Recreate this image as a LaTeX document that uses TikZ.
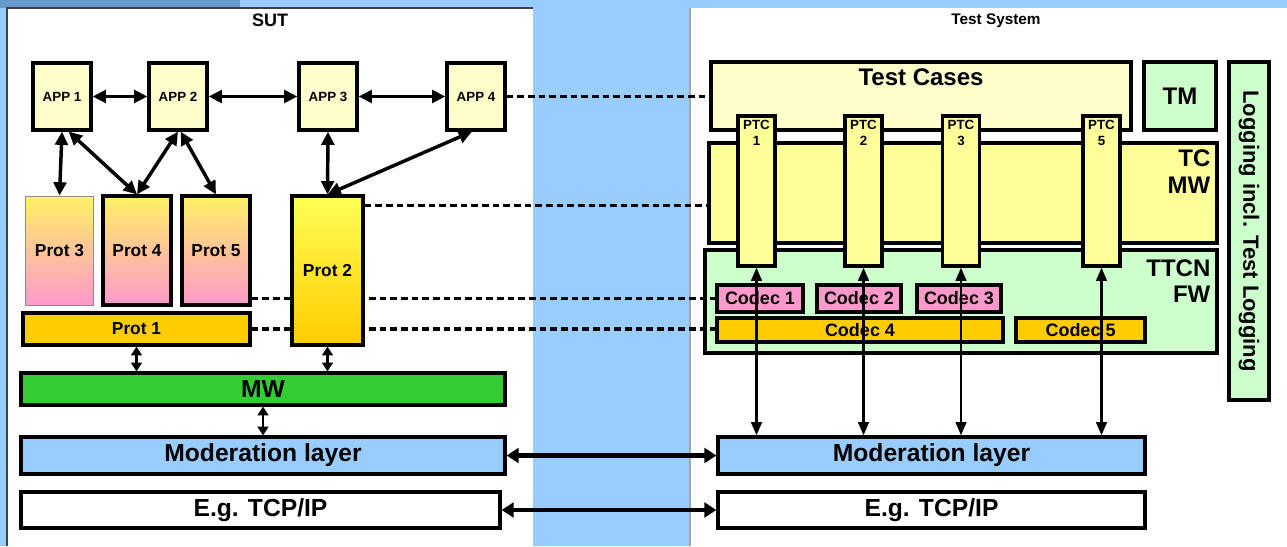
\documentclass[tikz,border=0pt]{standalone}
\usepackage{fontspec}
\setmainfont{Liberation Sans}
\usetikzlibrary{arrows.meta,calc,positioning}

\definecolor{bgblue}{HTML}{99CCFF}
\definecolor{stripblue}{HTML}{6699CC}
\definecolor{appyellow}{HTML}{FFFFCC}
\definecolor{tcyellow}{HTML}{FFFF99}
\definecolor{ttcngreen}{HTML}{CCFFCC}
\definecolor{mwgreen}{HTML}{33CC33}
\definecolor{codecpink}{HTML}{FF99CC}
\definecolor{codecorange}{HTML}{FFCC00}
\definecolor{prottop}{HTML}{FFF066}
\definecolor{protpink}{HTML}{FF99CC}
\definecolor{prot2top}{HTML}{FFFF55}
\definecolor{logyellow}{HTML}{FFFF66}

\begin{document}
\begin{tikzpicture}[x=0.75pt,y=0.75pt,yscale=-1,xscale=1,
  sz/.style 2 args={minimum width=#1*0.75pt, minimum height=#2*0.75pt},
  box/.style={draw, line width=2.4pt, inner sep=0pt},
  app/.style={box, sz={58}{67}, fill=appyellow, font=\bfseries\fontsize{10}{12}\selectfont},
  prot/.style={box, sz={68}{109}, top color=prottop, bottom color=protpink, font=\bfseries\fontsize{13}{15}\selectfont},
  layer/.style={box, font=\bfseries\fontsize{18.5}{22}\selectfont},
  ptc/.style={box, sz={37}{150}, fill=tcyellow},
  ptclabel/.style={anchor=north, inner sep=4pt, align=center, font=\bfseries\fontsize{10}{12}\selectfont},
  codec/.style={box, font=\bfseries\fontsize{13.5}{16}\selectfont},
  cornerlabel/.style={anchor=north east, align=right, inner sep=6pt, font=\bfseries\fontsize{18}{20}\selectfont},
  biarrow/.style={line width=2.6pt, arrows={Triangle[length=10pt,width=9.5pt]-Triangle[length=10pt,width=9.5pt]}},
  shortarrow/.style={line width=2pt, arrows={Triangle[length=6.5pt,width=8pt]-Triangle[length=6.5pt,width=8pt]}},
  ptcarrow/.style={line width=1.8pt, arrows={Triangle[length=10pt,width=8pt]-Triangle[length=10pt,width=8pt]}},
  linkarrow/.style={line width=3.2pt, arrows={Triangle[length=9pt,width=11pt]-Triangle[length=9pt,width=11pt]}},
  dashlink/.style={line width=2.5pt, dash pattern=on 5pt off 3pt}]

\useasboundingbox (0,0) rectangle (1287,546);

% backdrop and the two panels
\fill[bgblue] (0,0) rectangle (1287,546);
\fill[stripblue] (0,0) rectangle (240,8);
\fill[white] (7,8) rectangle (533,546);
\fill[white] (690,8) rectangle (1287,546);
\draw[line width=1.2pt, black!75] (7,546) -- (7,8) -- (533,8);
\draw[line width=0.8pt, black!35] (690,546) -- (690,8);

\node[font=\bfseries\fontsize{13.5}{16}\selectfont] (sut) at (270,20) {SUT};
\node[font=\bfseries\fontsize{11.5}{14}\selectfont] (testsys) at (996,21) {Test System};

% SUT: applications
\node[app] (APP1) at (62,96.5) {APP 1};
\node[app] (APP2) at (178,96.5) {APP 2};
\node[app] (APP3) at (328,96.5) {APP 3};
\node[app] (APP4) at (476,96.5) {APP 4};

% SUT: protocols
\node[prot, line width=0.6pt, draw=black!45] (Prot3) at (59.5,250.5) {Prot 3};
\node[prot] (Prot4) at (137,250.5) {Prot 4};
\node[prot] (Prot5) at (216,250.5) {Prot 5};
\node[box, sz={227}{32}, fill=codecorange, font=\bfseries\fontsize{13}{15}\selectfont] (Prot1) at (136.5,329) {Prot 1};

% SUT: lower layers
\node[layer, sz={484}{32}, fill=mwgreen] (MW) at (263,389) {MW};
\node[layer, sz={484}{37}, fill=bgblue] (ModL) at (263,455.5) {Moderation layer};
\node[layer, sz={479}{36}, fill=white] (TcpL) at (260.5,510) {E.g. TCP/IP};

% Test system: test cases, TM and logging
\node[box, sz={420}{68}, fill=appyellow,
  label={[anchor=north, inner sep=6pt, font=\bfseries\fontsize{18}{20}\selectfont]north:Test Cases}] (TestCases) at (921,96) {};
\node[box, sz={72}{68}, fill=ttcngreen, font=\bfseries\fontsize{18}{20}\selectfont] (TM) at (1180,96) {TM};
\node[box, sz={40}{338}, top color=ttcngreen, middle color=logyellow, bottom color=ttcngreen,
  label={[rotate=-90, font=\bfseries\fontsize{16.5}{19}\selectfont]center:Logging incl. Test Logging}] (Logging) at (1249,231) {};

% Test system: middleware and framework
\node[box, sz={508}{100}, fill=tcyellow, label={[cornerlabel]north east:TC\\MW}] (TCMW) at (963,193) {};
\node[box, sz={512}{103}, fill=ttcngreen, label={[cornerlabel, inner ysep=8pt]north east:TTCN\\FW}] (TTCN) at (961,301.5) {};

\node[ptc, label={[ptclabel]north:PTC\\1}] (PTC1) at (756.5,191) {};
\node[ptc, label={[ptclabel]north:PTC\\2}] (PTC2) at (863.5,191) {};
\node[ptc, label={[ptclabel]north:PTC\\3}] (PTC3) at (961,191) {};
\node[ptc, label={[ptclabel]north:PTC\\5}] (PTC5) at (1101.5,191) {};

\node[codec, sz={86}{27}, fill=codecpink] (Codec1) at (760,298.5) {Codec 1};
\node[codec, sz={84}{27}, fill=codecpink] (Codec2) at (859,298.5) {Codec 2};
\node[codec, sz={84}{27}, fill=codecpink] (Codec3) at (959,298.5) {Codec 3};
\node[codec, sz={286}{24}, fill=codecorange] (Codec4) at (860,330) {Codec 4};
\node[codec, sz={129}{24}, fill=codecorange] (Codec5) at (1080.5,330) {Codec 5};

\node[layer, sz={427}{37}, fill=bgblue] (ModR) at (931.5,455.5) {Moderation layer};
\node[layer, sz={427}{36}, fill=white] (TcpR) at (931.5,510) {E.g. TCP/IP};

% links that run behind Prot 2
\draw[dashlink] (Prot5.east |- Codec1.west) -- (Codec1.west);
\draw[dashlink] (Prot1.east) -- (Prot1.east -| Codec4.west);
\draw[dashlink] (APP4.east) -- (APP4.east -| TestCases.west);

\node[box, sz={71}{149}, top color=prot2top, bottom color=codecorange, font=\bfseries\fontsize{13}{15}\selectfont] (Prot2) at (327.5,270.5) {Prot 2};
\coordinate (p2out) at ($(Prot2.north east)+(0,11)$);
\draw[dashlink] (p2out) -- (p2out -| TCMW.west);

% application links
\draw[biarrow] (APP1) -- (APP2);
\draw[biarrow] (APP2) -- (APP3);
\draw[biarrow] (APP3) -- (APP4);
\draw[biarrow] (APP1.south) -- (Prot3.north);
\draw[biarrow] ([xshift=5pt]APP1.south) -- (Prot4.north);
\draw[biarrow] (APP2.south) -- (Prot4.north);
\draw[biarrow] ([xshift=2pt]APP2.south) -- (Prot5.north);
\draw[biarrow] (APP3.south) -- (Prot2.north);
\draw[biarrow] ([xshift=-3pt]APP4.south) -- (Prot2.north);

% stack links
\draw[shortarrow] (Prot1.south) -- (Prot1.south |- MW.north);
\draw[shortarrow] (Prot2.south) -- (Prot2.south |- MW.north);
\draw[shortarrow] (MW.south) -- (ModL.north);
\foreach \p in {PTC1,PTC2,PTC3,PTC5}
  \draw[ptcarrow] (\p.south) -- (\p.south |- ModR.north);

% across the two systems
\draw[linkarrow] (ModL.east) -- (ModR.west);
\draw[linkarrow] (TcpL.east) -- (TcpR.west);

\end{tikzpicture}
\end{document}
